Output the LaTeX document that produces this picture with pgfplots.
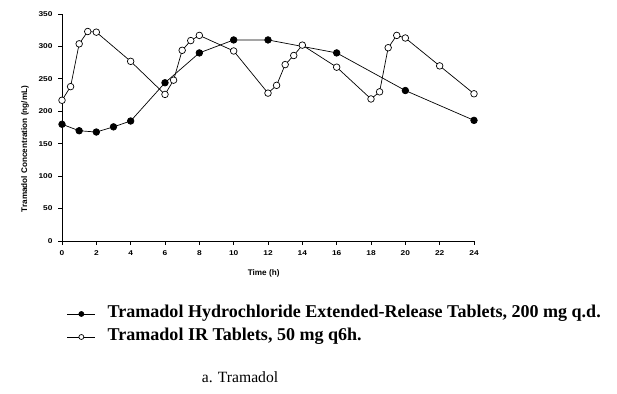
\documentclass[border=0pt]{standalone}
\usepackage{fontspec}
\setmainfont{Liberation Serif}
\setsansfont{Liberation Sans}
\newfontfamily\tickfont{Liberation Sans}[FakeStretch=1.2]
\usepackage{pgfplots}
\pgfplotsset{compat=1.18}
\begin{document}
\begin{tikzpicture}
\path[use as bounding box] (0,0) rectangle (617bp,394bp);
\begin{axis}[
  at={(62bp,153bp)}, anchor=south west,
  scale only axis, width=412bp, height=227bp,
  xmin=0, xmax=24, ymin=0, ymax=350,
  axis x line=bottom, axis y line=left,
  axis line style={-, line width=0.9bp},
  tick align=outside, major tick length=4bp,
  tick style={black, line width=0.8bp},
  xtick={0,2,...,24}, ytick={0,50,...,350},
  /pgf/number format/assume math mode=true,
  tick label style={font=\tickfont\bfseries\fontsize{7}{8}\selectfont},
  xticklabel style={yshift=-2bp},
  yticklabel style={xshift=-2bp},
  xlabel={Time (h)},
  ylabel={Tramadol Concentration (ng/mL)},
  label style={font=\sffamily\bfseries\fontsize{8.2}{9}\selectfont},
  xlabel style={at={(axis description cs:0.4895,0)}, anchor=center, yshift=-32bp},
  ylabel style={at={(axis description cs:-0.0898,0.405)}, anchor=center},
  legend style={draw=none, fill=none, inner sep=0pt, outer sep=0pt,
    at={(axis description cs:0.01214,-0.2863)}, anchor=north west,
    font=\bfseries\fontsize{18.1}{20}\selectfont,
    legend cell align=left, row sep=7bp, column sep=12bp,
    nodes={inner sep=0pt, text height=12bp, text depth=4bp}},
  legend image code/.code={%
    \draw[mark repeat=2, mark phase=2, #1, mark size=2.5bp] plot coordinates {(0bp,0bp)(14bp,0bp)(28bp,0bp)};},
]
\addplot[black, line width=0.7bp, mark=*, mark size=3.3bp, mark options={fill=black}]
  coordinates {(0,180)(1,170)(2,168)(3,176)(4,185)(6,244)(8,290)(10,310)(12,310)(16,290)(20,232)(24,186)};
\addlegendentry{Tramadol Hydrochloride Extended-Release Tablets, 200 mg q.d.}
\addplot[black, line width=0.7bp, mark=*, mark size=3.3bp, mark options={fill=white}]
  coordinates {(0,217)(0.5,238)(1,304)(1.5,323)(2,322)(4,277)(6,226)(6.5,248)(7,294)(7.5,309)(8,317)(10,293)(12,228)(12.5,240)(13,272)(13.5,286)(14,302)(16,268)(18,219)(18.5,230)(19,298)(19.5,317)(20,313)(22,270)(24,227)};
\addlegendentry{Tramadol IR Tablets, 50 mg q6h.}
\end{axis}
\node[font=\fontsize{15.7}{18}\selectfont, anchor=center] at (240bp,17bp) {a. Tramadol};
\end{tikzpicture}
\end{document}
